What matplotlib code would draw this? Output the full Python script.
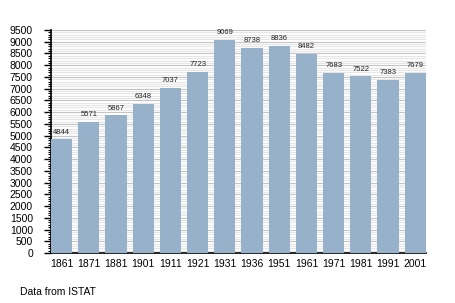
import numpy as np
import matplotlib.pyplot as plt
from matplotlib.ticker import MultipleLocator

plt.rcParams['font.family'] = ['Liberation Sans', 'DejaVu Sans']

# Population by census year
years = ["1861", "1871", "1881", "1901", "1911", "1921", "1931",
         "1936", "1951", "1961", "1971", "1981", "1991", "2001"]
population = [4844, 5571, 5867, 6348, 7037, 7723, 9069,
              8738, 8836, 8482, 7683, 7522, 7383, 7679]

fig = plt.figure(figsize=(4.55, 3.03), dpi=100)
ax = fig.add_axes([0.112, 0.165, 0.824, 0.736])

x = np.arange(len(years))
width = 0.78
ax.bar(x, population, width=width, color="#98b1cb", zorder=3)

for xi, v in zip(x, population):
    ax.text(xi, v + 160, str(v), ha="center", va="bottom", fontsize=5.5, color="#222222")

ax.set_xlim(-width / 2, len(years) - 1 + width / 2)
ax.set_ylim(0, 9500)
ax.yaxis.set_major_locator(MultipleLocator(500))
ax.yaxis.set_minor_locator(MultipleLocator(100))
ax.grid(axis="y", which="minor", color="#e6e6e6", linewidth=0.8, zorder=0)
ax.grid(axis="y", which="major", color="#c4c4c4", linewidth=0.8, zorder=1)

ax.set_xticks(x)
ax.set_xticklabels(years)
ax.tick_params(axis="x", length=0, labelsize=7.5, pad=4)
ax.tick_params(axis="y", which="major", length=5, width=1, labelsize=7.5, pad=8)
ax.tick_params(axis="y", which="minor", length=2, width=0.8)

for s in ["top", "right"]:
    ax.spines[s].set_visible(False)
ax.spines["left"].set_linewidth(1.2)
ax.spines["bottom"].set_linewidth(1.2)

fig.text(20 / 455, 1 - 292 / 303, "Data from ISTAT", fontsize=7.5, va="center")

plt.savefig("out.png", dpi=100)
